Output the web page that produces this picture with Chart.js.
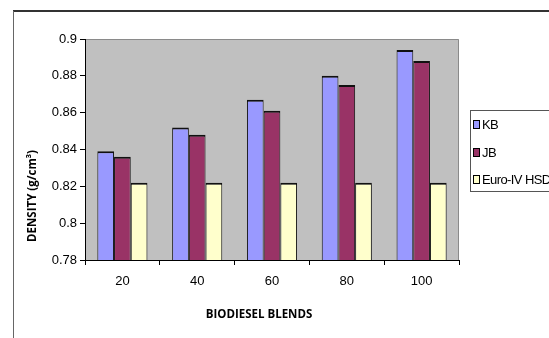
<!DOCTYPE html>
<html>
<head>
<meta charset="utf-8">
<script src="https://cdn.jsdelivr.net/npm/chart.js@4/dist/chart.umd.min.js"></script>
<style>
  html, body { margin: 0; padding: 0; background: #fff; }
  #wrap { width: 549px; height: 338px; position: relative; }
</style>
</head>
<body>
<div id="wrap"><canvas id="density"></canvas></div>
<script>
// biodiesel blend percentages
const blends = ['20', '40', '60', '80', '100'];

// density values, g/cm3
const kbDensity = [0.839, 0.852, 0.867, 0.880, 0.894];
const jbDensity = [0.836, 0.848, 0.861, 0.875, 0.888];
const euroDensity = [0.822, 0.822, 0.822, 0.822, 0.822];

const seriesNames = ['KB', 'JB', 'Euro-IV HSD'];
const seriesColors = ['#9999FF', '#993366', '#FFFFCC'];

const yMin = 0.78, yMax = 0.9, yStep = 0.02;

const tickFont = {family: '"Liberation Sans", Arial, sans-serif', size: 13};

// grey plot background, frame lines, axis titles and the boxed legend
const decorations = {
    id: 'decorations',
    beforeDraw(chart) {
        const {ctx, chartArea: a} = chart;
        ctx.save();
        ctx.fillStyle = '#C0C0C0';
        ctx.fillRect(a.left, a.top, a.right - a.left, a.bottom - a.top);
        ctx.strokeStyle = '#8a8a8a';
        ctx.lineWidth = 1;
        ctx.beginPath();
        ctx.moveTo(a.left, a.top + 0.5);
        ctx.lineTo(a.right - 0.5, a.top + 0.5);
        ctx.lineTo(a.right - 0.5, a.bottom);
        ctx.stroke();

        // outer frame
        ctx.strokeStyle = '#333';
        ctx.lineWidth = 2;
        ctx.beginPath();
        ctx.moveTo(13, 11);
        ctx.lineTo(549, 11);
        ctx.stroke();
        ctx.strokeStyle = '#666';
        ctx.lineWidth = 1;
        ctx.beginPath();
        ctx.moveTo(13.5, 11);
        ctx.lineTo(13.5, 338);
        ctx.stroke();
        ctx.restore();
    },
    afterDraw(chart) {
        const {ctx} = chart;
        ctx.save();
        ctx.fillStyle = '#000';
        ctx.font = 'bold 11.5px "Open Sans", sans-serif';
        ctx.textAlign = 'center';
        ctx.textBaseline = 'middle';
        ctx.fillText('BIODIESEL BLENDS', 259, 315);

        ctx.translate(33, 196);
        ctx.rotate(-Math.PI / 2);
        ctx.fillText('DENSITY (g/cm³)', 0, 0);
        ctx.restore();

        // legend
        ctx.save();
        ctx.strokeStyle = '#555';
        ctx.lineWidth = 1;
        ctx.strokeRect(470.5, 110.5, 100, 81);
        ctx.font = '13px "Liberation Sans", Arial, sans-serif';
        ctx.letterSpacing = '-0.6px';
        ctx.textBaseline = 'middle';
        const rows = [124, 152, 179];
        chart.data.datasets.forEach((ds, i) => {
            const y = rows[i];
            ctx.fillStyle = ds.backgroundColor;
            ctx.fillRect(473.5, y - 3.5, 6, 8);
            ctx.strokeStyle = '#000';
            ctx.strokeRect(473.5, y - 3.5, 6, 8);
            ctx.fillStyle = '#000';
            ctx.fillText(ds.label, 482, y + 1);
        });
        ctx.restore();
    }
};

const barBorder = {top: 2, left: 1, right: 1, bottom: 0};

new Chart(document.getElementById('density'), {
    type: 'bar',
    data: {
        labels: blends,
        datasets: [kbDensity, jbDensity, euroDensity].map((values, i) => ({
            label: seriesNames[i],
            data: values,
            backgroundColor: seriesColors[i],
            borderColor: '#111',
            borderWidth: barBorder,
            borderSkipped: false,
            categoryPercentage: 0.67,
            barPercentage: 1.0
        }))
    },
    options: {
        responsive: true,
        maintainAspectRatio: false,
        animation: false,
        layout: {padding: {left: 20, right: 90, top: 39, bottom: 0}},
        plugins: {
            legend: {display: false},
            tooltip: {enabled: false}
        },
        scales: {
            x: {
                afterFit(scale) { scale.height = 78; },
                border: {color: '#000', width: 1},
                grid: {drawOnChartArea: false, drawTicks: true, tickLength: 5, color: '#000', offset: true},
                ticks: {font: tickFont, color: '#000', padding: 9}
            },
            y: {
                min: yMin,
                max: yMax,
                afterFit(scale) { scale.width = 65; },
                border: {color: '#000', width: 1},
                grid: {drawOnChartArea: false, drawTicks: true, tickLength: 5, color: '#000'},
                ticks: {
                    stepSize: yStep,
                    font: tickFont,
                    color: '#000',
                    padding: 3,
                    callback: v => String(+v.toFixed(2))
                }
            }
        }
    },
    plugins: [decorations]
});
</script>
</body>
</html>
